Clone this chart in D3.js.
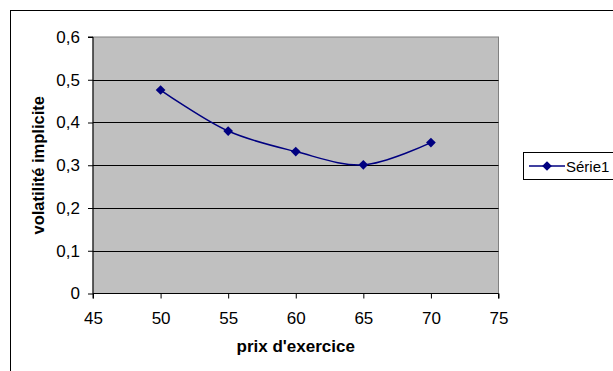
<!DOCTYPE html>
<html>
<head>
<meta charset="utf-8">
<script src="https://cdn.jsdelivr.net/npm/d3@7"></script>
<style>
  body { margin: 0; background: #fff; }
  svg text { font-family: "Liberation Sans", Arial, sans-serif; }
</style>
</head>
<body>
<div id="chart"></div>
<script>
width = 613
height = 371

// data
let strikes = [50, 55, 60, 65, 70]
let vols = [0.476, 0.38, 0.332, 0.301, 0.353]
let xTicks = [45, 50, 55, 60, 65, 70, 75]
let yTicks = [0, 0.1, 0.2, 0.3, 0.4, 0.5, 0.6]
let seriesName = "Série1"

let svg = d3.select("#chart")
    .append("svg")
    .attr("width", width)
    .attr("height", height)

// outer chart frame
svg.append("rect")
    .attr("x", 10.5).attr("y", 10.5)
    .attr("width", width + 10).attr("height", height + 10)
    .attr("fill", "#fff")
    .attr("stroke", "#000")

let plot = { left: 93, top: 37, right: 498.5, bottom: 293.5 }

let x = d3.scaleLinear().domain([45, 75]).range([plot.left, plot.right])
let y = d3.scaleLinear().domain([0, 0.6]).range([plot.bottom, plot.top])

svg.append("rect")
    .attr("x", plot.left).attr("y", plot.top)
    .attr("width", plot.right - plot.left)
    .attr("height", plot.bottom - plot.top)
    .attr("fill", "#c0c0c0")
    .attr("stroke", "#808080")

// gridlines
svg.append("g")
    .selectAll("line")
    .data(yTicks.filter(d => d > 0 && d < 0.6))
    .join("line")
    .attr("x1", plot.left).attr("x2", plot.right)
    .attr("y1", d => Math.round(y(d)) + 0.5).attr("y2", d => Math.round(y(d)) + 0.5)
    .attr("stroke", "#000")

let fmt = d => String(+d.toFixed(1)).replace(".", ",")

let yAxis = svg.append("g")
    .attr("transform", "translate(" + plot.left + ",0)")
    .call(d3.axisLeft(y).tickValues(yTicks).tickFormat(fmt).tickSize(5).tickPadding(8))
let xAxis = svg.append("g")
    .attr("transform", "translate(0," + plot.bottom + ")")
    .call(d3.axisBottom(x).tickValues(xTicks).tickSize(5).tickPadding(13))

;[yAxis, xAxis].forEach(a => {
    a.select(".domain").attr("stroke", "#000")
    a.selectAll(".tick line").attr("stroke", "#000")
    a.selectAll("text").attr("font-size", 17).attr("fill", "#000")
        .style("font-family", "'Liberation Sans', Arial, sans-serif")
})
yAxis.select(".domain").attr("d", "M-5," + plot.top + "H0V" + plot.bottom)
xAxis.select(".domain").attr("d", "M" + plot.left + ",5V0H" + plot.right + "V5")

// axis titles
svg.append("text")
    .attr("transform", "translate(44," + (plot.top + plot.bottom) / 2 + ") rotate(-90)")
    .attr("text-anchor", "middle")
    .attr("font-size", 16.5)
    .attr("font-weight", "bold")
    .text("volatilité implicite")

svg.append("text")
    .attr("x", (plot.left + plot.right) / 2)
    .attr("y", 352)
    .attr("text-anchor", "middle")
    .attr("font-size", 17)
    .attr("font-weight", "bold")
    .text("prix d'exercice")

// smoothed series
let points = strikes.map((s, i) => [s, vols[i]])
let line = d3.line()
    .x(d => x(d[0]))
    .y(d => y(d[1]))
    .curve(d3.curveCatmullRom.alpha(0.5))

svg.append("path")
    .datum(points)
    .attr("d", line)
    .attr("fill", "none")
    .attr("stroke", "#000080")
    .attr("stroke-width", 1.5)

let diamond = d3.symbol().type(d3.symbolDiamond2).size(60)
svg.append("g")
    .selectAll("path")
    .data(points)
    .join("path")
    .attr("transform", d => "translate(" + x(d[0]) + "," + y(d[1]) + ")")
    .attr("d", diamond)
    .attr("fill", "#000080")

// legend
let legend = svg.append("g").attr("transform", "translate(523,152)")
legend.append("rect")
    .attr("x", 0.5).attr("y", 0.5)
    .attr("width", 100).attr("height", 27)
    .attr("fill", "#fff")
    .attr("stroke", "#000")
legend.append("line")
    .attr("x1", 6).attr("x2", 42).attr("y1", 14).attr("y2", 14)
    .attr("stroke", "#000080").attr("stroke-width", 1.5)
legend.append("path")
    .attr("transform", "translate(24,14)")
    .attr("d", diamond)
    .attr("fill", "#000080")
legend.append("text")
    .attr("x", 43).attr("y", 19.5)
    .attr("font-size", 15)
    .text(seriesName)
</script>
</body>
</html>
